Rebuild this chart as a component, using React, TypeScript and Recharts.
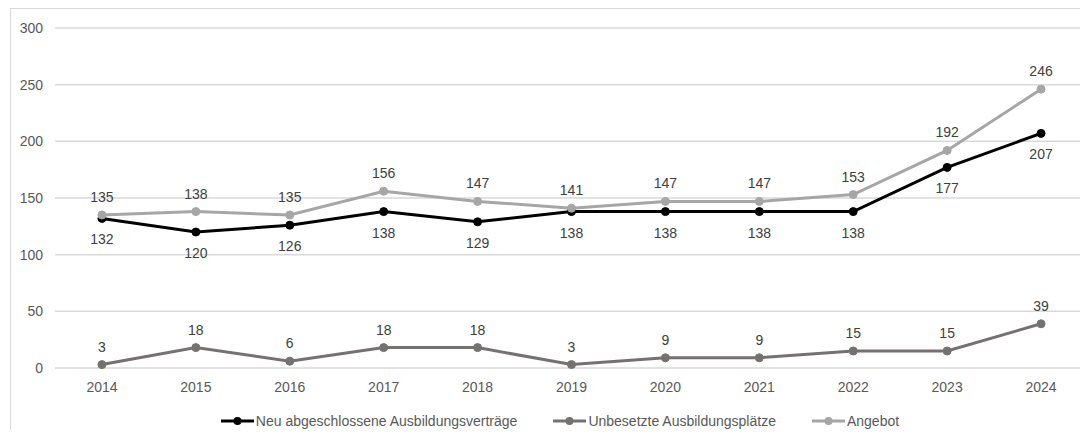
import React from 'react'
import { LineChart, Line, XAxis, YAxis, CartesianGrid, Legend, LabelList } from 'recharts'

const years = ['2014', '2015', '2016', '2017', '2018', '2019', '2020', '2021', '2022', '2023', '2024']
const neuVertraege = [132, 120, 126, 138, 129, 138, 138, 138, 138, 177, 207]
const unbesetzt = [3, 18, 6, 18, 18, 3, 9, 9, 15, 15, 39]
const angebot = [135, 138, 135, 156, 147, 141, 147, 147, 153, 192, 246]
const yTicks = [0, 50, 100, 150, 200, 250, 300]

const data = years.map((year, i) => ({
  year,
  neu: neuVertraege[i],
  unbesetzt: unbesetzt[i],
  angebot: angebot[i]
}))

const series = [
  { key: 'neu', name: 'Neu abgeschlossene Ausbildungsverträge', color: '#000000', labelPos: 'bottom', labelOffset: 16 },
  { key: 'unbesetzt', name: 'Unbesetzte Ausbildungsplätze', color: '#767171', labelPos: 'top', labelOffset: 13 },
  { key: 'angebot', name: 'Angebot', color: '#a6a6a6', labelPos: 'top', labelOffset: 13 }
] as const

const FONT = '"Liberation Sans", Arial, sans-serif'
const TEXT = '#595959'

function LegendContent() {
  return (
    <div style={{ display: 'flex', justifyContent: 'center', paddingLeft: 32, paddingTop: 5, fontFamily: FONT, fontSize: 14, color: TEXT }}>
      {series.map((s, i) => (
        <div key={s.key} style={{ display: 'flex', alignItems: 'center', marginRight: i < series.length - 1 ? 36 : 0 }}>
          <svg width={33} height={10} style={{ marginRight: 2 }}>
            <line x1={0} y1={5} x2={33} y2={5} stroke={s.color} strokeWidth={3} />
            <circle cx={16.5} cy={5} r={4} fill={s.color} />
          </svg>
          <span>{s.name}</span>
        </div>
      ))}
    </div>
  )
}

export default function App() {
  return (
    <div style={{ position: 'relative', margin: -8, width: 1088, height: 438, overflow: 'hidden', background: '#fff' }}>
      <div style={{ position: 'absolute', left: 10, top: 8, width: 1100, height: 440, borderLeft: '1px solid #d9d9d9', borderTop: '1px solid #d9d9d9' }} />
      <LineChart width={1088} height={438} data={data} margin={{ top: 28, right: 0, bottom: 0, left: 0 }} style={{ fontFamily: FONT }}>
        <CartesianGrid vertical={false} stroke="#d9d9d9" strokeWidth={1.5} />
        <XAxis
          dataKey="year"
          scale="band"
          axisLine={false}
          tickLine={false}
          tickSize={0}
          tickMargin={14}
          height={40}
          tick={{ fill: TEXT, fontSize: 14 }}
        />
        <YAxis
          domain={[0, 300]}
          ticks={yTicks}
          axisLine={false}
          tickLine={false}
          tickSize={0}
          tickMargin={12}
          width={55}
          tick={{ fill: TEXT, fontSize: 14 }}
        />
        <Legend verticalAlign="bottom" height={30} content={<LegendContent />} />
        {series.map((s) => (
          <Line
            key={s.key}
            dataKey={s.key}
            name={s.name}
            stroke={s.color}
            strokeWidth={3}
            dot={{ r: 4, fill: s.color, stroke: s.color, strokeWidth: 1 }}
            activeDot={false}
            isAnimationActive={false}
          >
            <LabelList
              dataKey={s.key}
              position={s.labelPos}
              offset={s.labelOffset}
              style={{ fill: '#404040', fontSize: 14 }}
            />
          </Line>
        ))}
      </LineChart>
    </div>
  )
}
